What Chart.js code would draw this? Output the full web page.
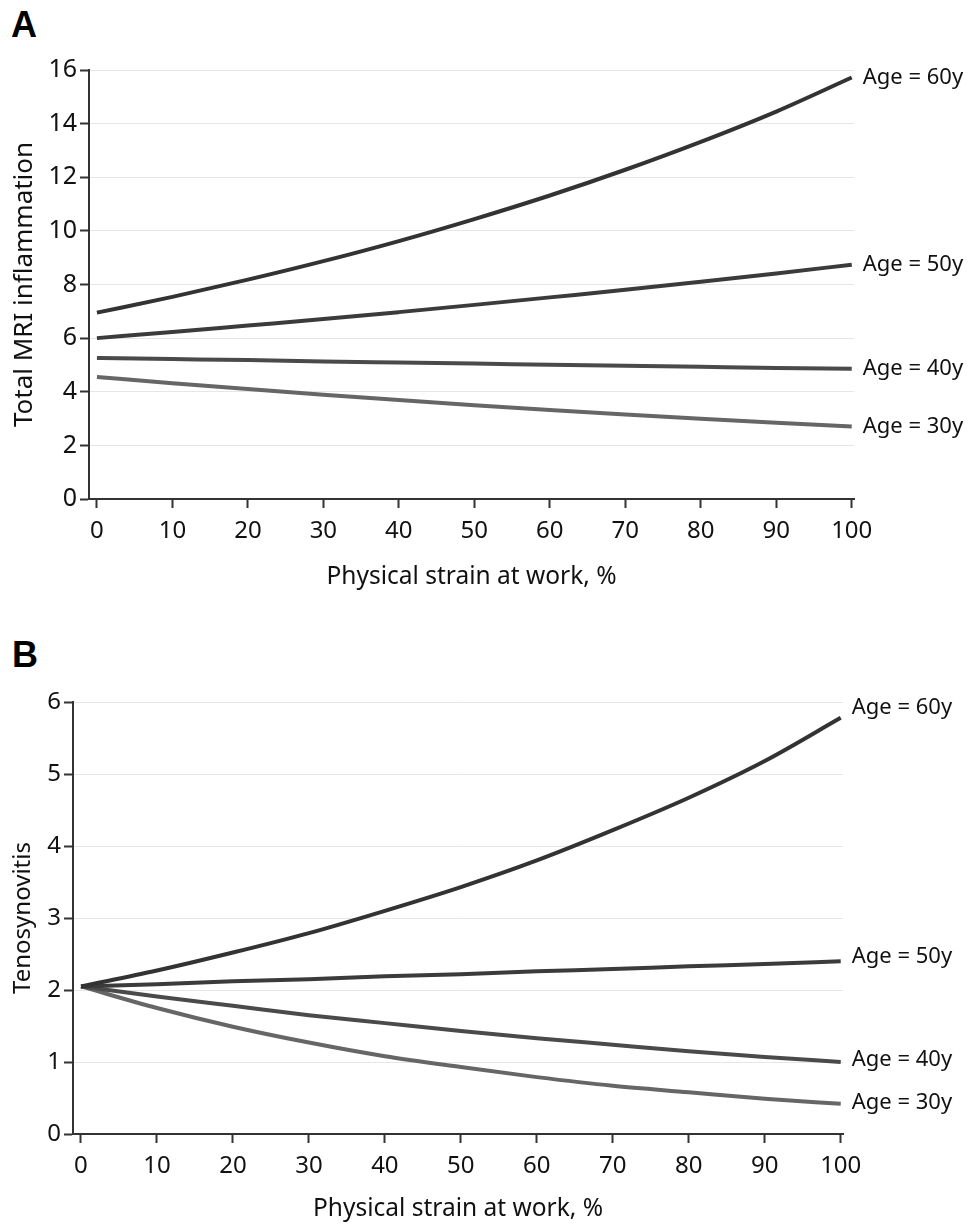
<!DOCTYPE html>
<html>
<head>
<meta charset="utf-8">
<script src="https://cdn.jsdelivr.net/npm/chart.js@4/dist/chart.umd.min.js"></script>
<style>
  html, body { margin: 0; padding: 0; background: #fff; }
  body { width: 969px; height: 1225px; position: relative; overflow: hidden; }
  .panel { position: absolute; left: 0; width: 969px; }
  .letter { position: absolute; font-family: "Liberation Sans", Arial, sans-serif; font-weight: bold; font-size: 36px; line-height: 1; color: #000; }
</style>
</head>
<body>
<div class="letter" style="left:11px; top:7px;">A</div>
<div class="panel" style="top:0; height:610px;"><canvas id="chartA" width="969" height="610"></canvas></div>
<div class="letter" style="left:12px; top:637px;">B</div>
<div class="panel" style="top:610px; height:615px;"><canvas id="chartB" width="969" height="615"></canvas></div>
<script>
// x 轴：工作体力负荷（%）
const strain = [0, 10, 20, 30, 40, 50, 60, 70, 80, 90, 100];
const xTicks = [0, 10, 20, 30, 40, 50, 60, 70, 80, 90, 100];
const ageLabels = ['Age = 60y', 'Age = 50y', 'Age = 40y', 'Age = 30y'];
const lineColors = ['#333333', '#3b3b3b', '#4a4a4a', '#666666'];

// A: Total MRI inflammation
const mriAge60 = [6.95, 7.54, 8.18, 8.87, 9.62, 10.44, 11.32, 12.28, 13.32, 14.45, 15.72];
const mriAge50 = [6.00, 6.23, 6.47, 6.71, 6.97, 7.24, 7.52, 7.80, 8.10, 8.41, 8.74];
const mriAge40 = [5.26, 5.22, 5.18, 5.13, 5.09, 5.05, 5.01, 4.97, 4.93, 4.89, 4.86];
const mriAge30 = [4.55, 4.32, 4.10, 3.89, 3.69, 3.50, 3.32, 3.15, 2.99, 2.84, 2.70];

// B: Tenosynovitis
const tenoAge60 = [2.05, 2.27, 2.52, 2.79, 3.10, 3.43, 3.80, 4.22, 4.67, 5.18, 5.78];
const tenoAge50 = [2.05, 2.08, 2.12, 2.15, 2.19, 2.22, 2.26, 2.29, 2.33, 2.36, 2.40];
const tenoAge40 = [2.05, 1.91, 1.78, 1.65, 1.54, 1.43, 1.33, 1.24, 1.15, 1.07, 1.00];
const tenoAge30 = [2.05, 1.75, 1.49, 1.27, 1.08, 0.93, 0.79, 0.67, 0.58, 0.49, 0.42];

const FONT = '"Noto Sans", "Open Sans", sans-serif';

// 在每条线末端写标签
const endLabels = {
  id: 'endLabels',
  afterDatasetsDraw(chart, args, opts) {
    const { ctx } = chart;
    const xs = chart.scales.x, ys = chart.scales.y;
    ctx.save();
    ctx.font = opts.size + 'px ' + FONT;
    ctx.fillStyle = '#111';
    ctx.textAlign = 'left';
    ctx.textBaseline = 'middle';
    chart.data.datasets.forEach((ds, i) => {
      const last = ds.data[ds.data.length - 1];
      const px = xs.getPixelForValue(last.x);
      const py = ys.getPixelForValue(last.y);
      ctx.fillText(ds.label, px + opts.gap, py + ((opts.nudge && opts.nudge[i]) || 0));
    });
    ctx.restore();
  }
};

function makeChart(id, series, cfg) {
  const ctx = document.getElementById(id).getContext('2d');
  return new Chart(ctx, {
    type: 'line',
    data: {
      datasets: series.map((s, i) => ({
        label: ageLabels[i],
        data: strain.map((x, j) => ({ x: x, y: s[j] })),
        borderColor: lineColors[i],
        borderWidth: 4,
        pointRadius: 0,
        fill: false,
        cubicInterpolationMode: 'monotone',
        clip: false
      }))
    },
    options: {
      responsive: false,
      animation: false,
      events: [],
      layout: { padding: { left: 0, right: cfg.padRight, top: cfg.padTop, bottom: 0 } },
      plugins: {
        legend: { display: false },
        tooltip: { enabled: false },
        endLabels: { gap: 11, size: 22, nudge: cfg.nudge }
      },
      scales: {
        x: {
          type: 'linear',
          min: cfg.xMin,
          max: cfg.xMax,
          afterBuildTicks: (scale) => { scale.ticks = xTicks.map(v => ({ value: v })); },
          afterFit: (scale) => { scale.height = cfg.xAxisH; },
          border: { display: true, color: '#333', width: 2 },
          grid: { display: true, drawOnChartArea: false, drawTicks: true, tickLength: 9, tickColor: '#333', tickWidth: 2 },
          ticks: { color: '#111', font: { family: FONT, size: cfg.xTickSize }, padding: cfg.xTickPad, maxRotation: 0, autoSkip: false },
          title: { display: true, text: 'Physical strain at work, %', color: '#111', font: { family: FONT, size: cfg.xTitleSize }, padding: { top: 0, bottom: cfg.xTitlePad } }
        },
        y: {
          min: 0,
          max: cfg.yMax,
          ticks: { stepSize: cfg.yStep, color: '#111', font: { family: FONT, size: cfg.yTickSize }, padding: 3 },
          afterFit: (scale) => { scale.width = cfg.yAxisW; },
          border: { display: true, color: '#333', width: 2 },
          grid: { color: '#e6e6e6', lineWidth: 1, drawTicks: true, tickLength: 9, tickColor: '#333', tickWidth: 2 },
          title: { display: true, text: cfg.yTitle, color: '#111', font: { family: FONT, size: cfg.yTitleSize }, padding: { top: cfg.yTitlePad, bottom: 0 } }
        }
      }
    },
    plugins: [endLabels]
  });
}

makeChart('chartA', [mriAge60, mriAge50, mriAge40, mriAge30], {
  padRight: 115, padTop: 70, xAxisH: 111, yAxisW: 89,
  xMin: -1.05, xMax: 100.3, yMax: 16, yStep: 2,
  xTickSize: 24, xTickPad: 9, xTitleSize: 24.5, xTitlePad: 18,
  yTickSize: 25, yTitleSize: 26, yTitlePad: 9,
  yTitle: 'Total MRI inflammation', nudge: [0, 0, 0, 0]
});

makeChart('chartB', [tenoAge60, tenoAge50, tenoAge40, tenoAge30], {
  padRight: 126, padTop: 92, xAxisH: 91, yAxisW: 73,
  xMin: -1.05, xMax: 100.3, yMax: 6, yStep: 1,
  xTickSize: 24, xTickPad: 9, xTitleSize: 24.5, xTitlePad: 1,
  yTickSize: 24, yTitleSize: 24, yTitlePad: 9,
  yTitle: 'Tenosynovitis', nudge: [-10, -4, -2, -1]
});
</script>
</body>
</html>
